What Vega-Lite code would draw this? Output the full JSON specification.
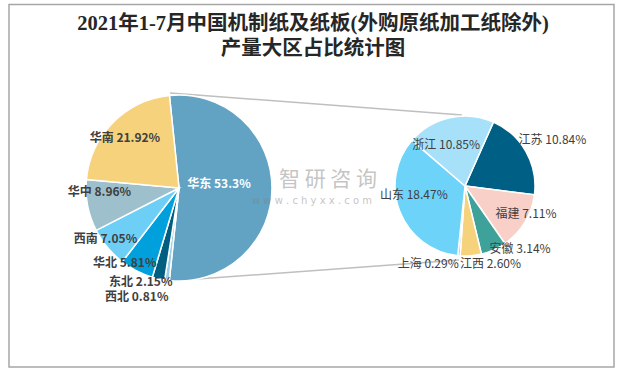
{
  "$schema": "https://vega.github.io/schema/vega-lite/v6.json",
  "width": 627,
  "height": 373,
  "autosize": "none",
  "padding": 0,
  "background": "white",
  "config": {"view": {"stroke": null}},
  "datasets": {
    "regions": [
      {"region": "华东", "pct": 53.3, "label": "华东 53.3%", "ord": 1},
      {"region": "西北", "pct": 0.81, "label": "西北 0.81%", "ord": 2},
      {"region": "东北", "pct": 2.15, "label": "东北 2.15%", "ord": 3},
      {"region": "华北", "pct": 5.81, "label": "华北 5.81%", "ord": 4},
      {"region": "西南", "pct": 7.05, "label": "西南 7.05%", "ord": 5},
      {"region": "华中", "pct": 8.96, "label": "华中 8.96%", "ord": 6},
      {"region": "华南", "pct": 21.92, "label": "华南 21.92%", "ord": 7}
    ],
    "provinces": [
      {"province": "江苏", "pct": 10.84, "label": "江苏 10.84%", "ord": 1},
      {"province": "福建", "pct": 7.11, "label": "福建 7.11%", "ord": 2},
      {"province": "安徽", "pct": 3.14, "label": "安徽 3.14%", "ord": 3},
      {"province": "江西", "pct": 2.60, "label": "江西 2.60%", "ord": 4},
      {"province": "上海", "pct": 0.29, "label": "上海 0.29%", "ord": 5},
      {"province": "山东", "pct": 18.47, "label": "山东 18.47%", "ord": 6},
      {"province": "浙江", "pct": 10.85, "label": "浙江 10.85%", "ord": 7}
    ]
  },
  "layer": [
    {
      "data": {"values": [{}]},
      "mark": {"type": "rect", "filled": false, "stroke": "#A6A6A6", "strokeWidth": 1.5},
      "encoding": {"x": {"value": 9}, "y": {"value": 4.5}, "x2": {"value": 614}, "y2": {"value": 367}}
    },
    {
      "data": {"values": [{}]},
      "mark": {"type": "rule", "stroke": "#BFBFBF", "strokeWidth": 1.5},
      "encoding": {"x": {"value": 170}, "y": {"value": 93}, "x2": {"value": 462}, "y2": {"value": 115}}
    },
    {
      "data": {"values": [{}]},
      "mark": {"type": "rule", "stroke": "#BFBFBF", "strokeWidth": 1.5},
      "encoding": {"x": {"value": 170}, "y": {"value": 281}, "x2": {"value": 459}, "y2": {"value": 260}}
    },
    {
      "data": {"name": "regions"},
      "encoding": {
        "theta": {"field": "pct", "type": "quantitative", "stack": true, "scale": {"domain": [0, 100], "range": [-0.10297, 6.18022], "nice": false, "zero": true}},
        "order": {"field": "ord", "type": "quantitative"},
        "x": {"value": 179},
        "y": {"value": 188}
      },
      "layer": [
        {
          "mark": {"type": "arc", "outerRadius": 93, "stroke": "white", "strokeWidth": 1.5},
          "encoding": {
            "color": {"field": "region", "type": "nominal", "legend": null,
              "scale": {"domain": ["华东", "西北", "东北", "华北", "西南", "华中", "华南"],
                        "range": ["#62A3C4", "#9ACDE6", "#005E80", "#00A0DC", "#6DCFF6", "#9EBFCC", "#F6D27C"]}}
          }
        },
        {
          "mark": {"type": "text", "radius": 40, "dy": -4, "fontSize": 12, "fontWeight": "bold", "font": "Noto Sans CJK SC", "fill": "white"},
          "encoding": {"text": {"condition": {"test": "datum.region === '华东'", "field": "label"}, "value": ""}}
        },
        {
          "mark": {"type": "text", "radius": 76, "dy": 3, "fontSize": 12, "fontWeight": "bold", "font": "Noto Sans CJK SC", "fill": "#404040"},
          "encoding": {"text": {"condition": {"test": "datum.region === '华南'", "field": "label"}, "value": ""}}
        },
        {
          "mark": {"type": "text", "radius": 80, "dx": -1, "dy": -11, "fontSize": 12, "fontWeight": "bold", "font": "Noto Sans CJK SC", "fill": "#404040"},
          "encoding": {"text": {"condition": {"test": "datum.region === '华中'", "field": "label"}, "value": ""}}
        },
        {
          "mark": {"type": "text", "radius": 80, "dx": -12, "fontSize": 12, "fontWeight": "bold", "font": "Noto Sans CJK SC", "fill": "#404040"},
          "encoding": {"text": {"condition": {"test": "datum.region === '西南'", "field": "label"}, "value": ""}}
        },
        {
          "mark": {"type": "text", "radius": 84, "dx": -16, "fontSize": 12, "fontWeight": "bold", "font": "Noto Sans CJK SC", "fill": "#404040"},
          "encoding": {"text": {"condition": {"test": "datum.region === '华北'", "field": "label"}, "value": ""}}
        },
        {
          "mark": {"type": "text", "radius": 96, "dx": -17, "fontSize": 12, "fontWeight": "bold", "font": "Noto Sans CJK SC", "fill": "#404040"},
          "encoding": {"text": {"condition": {"test": "datum.region === '东北'", "field": "label"}, "value": ""}}
        },
        {
          "mark": {"type": "text", "radius": 110, "dx": -28, "fontSize": 12, "fontWeight": "bold", "font": "Noto Sans CJK SC", "fill": "#404040"},
          "encoding": {"text": {"condition": {"test": "datum.region === '西北'", "field": "label"}, "value": ""}}
        }
      ]
    },
    {
      "data": {"name": "provinces"},
      "encoding": {
        "theta": {"field": "pct", "type": "quantitative", "stack": true, "scale": {"domain": [0, 53.3], "range": [0.41888, 6.70206], "nice": false, "zero": true}},
        "order": {"field": "ord", "type": "quantitative"},
        "x": {"value": 465},
        "y": {"value": 186}
      },
      "layer": [
        {
          "mark": {"type": "arc", "outerRadius": 70, "stroke": "white", "strokeWidth": 1.5},
          "encoding": {
            "color": {"field": "province", "type": "nominal", "legend": null,
              "scale": {"domain": ["江苏", "福建", "安徽", "江西", "上海", "山东", "浙江"],
                        "range": ["#005F85", "#F9D0C8", "#3FA29A", "#F6D27C", "#A0C4E0", "#6DD3F8", "#A7E1F9"]}}
          }
        },
        {
          "mark": {"type": "text", "radius": 90, "dx": 9, "dy": -2, "fontSize": 12, "font": "Noto Sans CJK SC", "fill": "#404040"},
          "encoding": {"text": {"condition": {"test": "datum.province === '江苏'", "field": "label"}, "value": ""}}
        },
        {
          "mark": {"type": "text", "radius": 62, "dx": 8, "dy": -4, "fontSize": 12, "font": "Noto Sans CJK SC", "fill": "#404040"},
          "encoding": {"text": {"condition": {"test": "datum.province === '福建'", "field": "label"}, "value": ""}}
        },
        {
          "mark": {"type": "text", "radius": 76, "dx": 24, "dy": -6, "fontSize": 12, "font": "Noto Sans CJK SC", "fill": "#404040"},
          "encoding": {"text": {"condition": {"test": "datum.province === '安徽'", "field": "label"}, "value": ""}}
        },
        {
          "mark": {"type": "text", "radius": 78, "dx": 19, "fontSize": 12, "font": "Noto Sans CJK SC", "fill": "#404040"},
          "encoding": {"text": {"condition": {"test": "datum.province === '江西'", "field": "label"}, "value": ""}}
        },
        {
          "mark": {"type": "text", "radius": 78, "dx": -30, "fontSize": 12, "font": "Noto Sans CJK SC", "fill": "#404040"},
          "encoding": {"text": {"condition": {"test": "datum.province === '上海'", "field": "label"}, "value": ""}}
        },
        {
          "mark": {"type": "text", "radius": 55, "dy": -11, "fontSize": 12, "font": "Noto Sans CJK SC", "fill": "#404040"},
          "encoding": {"text": {"condition": {"test": "datum.province === '山东'", "field": "label"}, "value": ""}}
        },
        {
          "mark": {"type": "text", "radius": 45, "dx": -9, "dy": 3, "fontSize": 12, "font": "Noto Sans CJK SC", "fill": "#404040"},
          "encoding": {"text": {"condition": {"test": "datum.province === '浙江'", "field": "label"}, "value": ""}}
        }
      ]
    },
    {
      "data": {"values": [{}]},
      "mark": {"type": "text", "text": "智 研 咨 询", "fontSize": 21, "font": "Noto Sans CJK SC", "fill": "#7F7F7F", "opacity": 0.45, "align": "center", "baseline": "middle"},
      "encoding": {"x": {"value": 328}, "y": {"value": 180}}
    },
    {
      "data": {"values": [{}]},
      "mark": {"type": "text", "text": "w  w  w  .  c  h  y  x  x  .  c  o  m", "fontSize": 10, "font": "DejaVu Sans", "fill": "#7F7F7F", "opacity": 0.45, "align": "center", "baseline": "middle"},
      "encoding": {"x": {"value": 312}, "y": {"value": 201}}
    },
    {
      "data": {"values": [{}]},
      "mark": {"type": "text", "text": ["2021年1-7月中国机制纸及纸板(外购原纸加工纸除外)", "产量大区占比统计图"], "fontSize": 20.5, "fontWeight": "bold", "lineHeight": 25, "font": "Liberation Serif, Noto Sans CJK SC", "fill": "#262626", "align": "center", "baseline": "middle"},
      "encoding": {"x": {"value": 313}, "y": {"value": 24}}
    }
  ],
  "resolve": {"scale": {"theta": "independent", "color": "independent"}}
}
